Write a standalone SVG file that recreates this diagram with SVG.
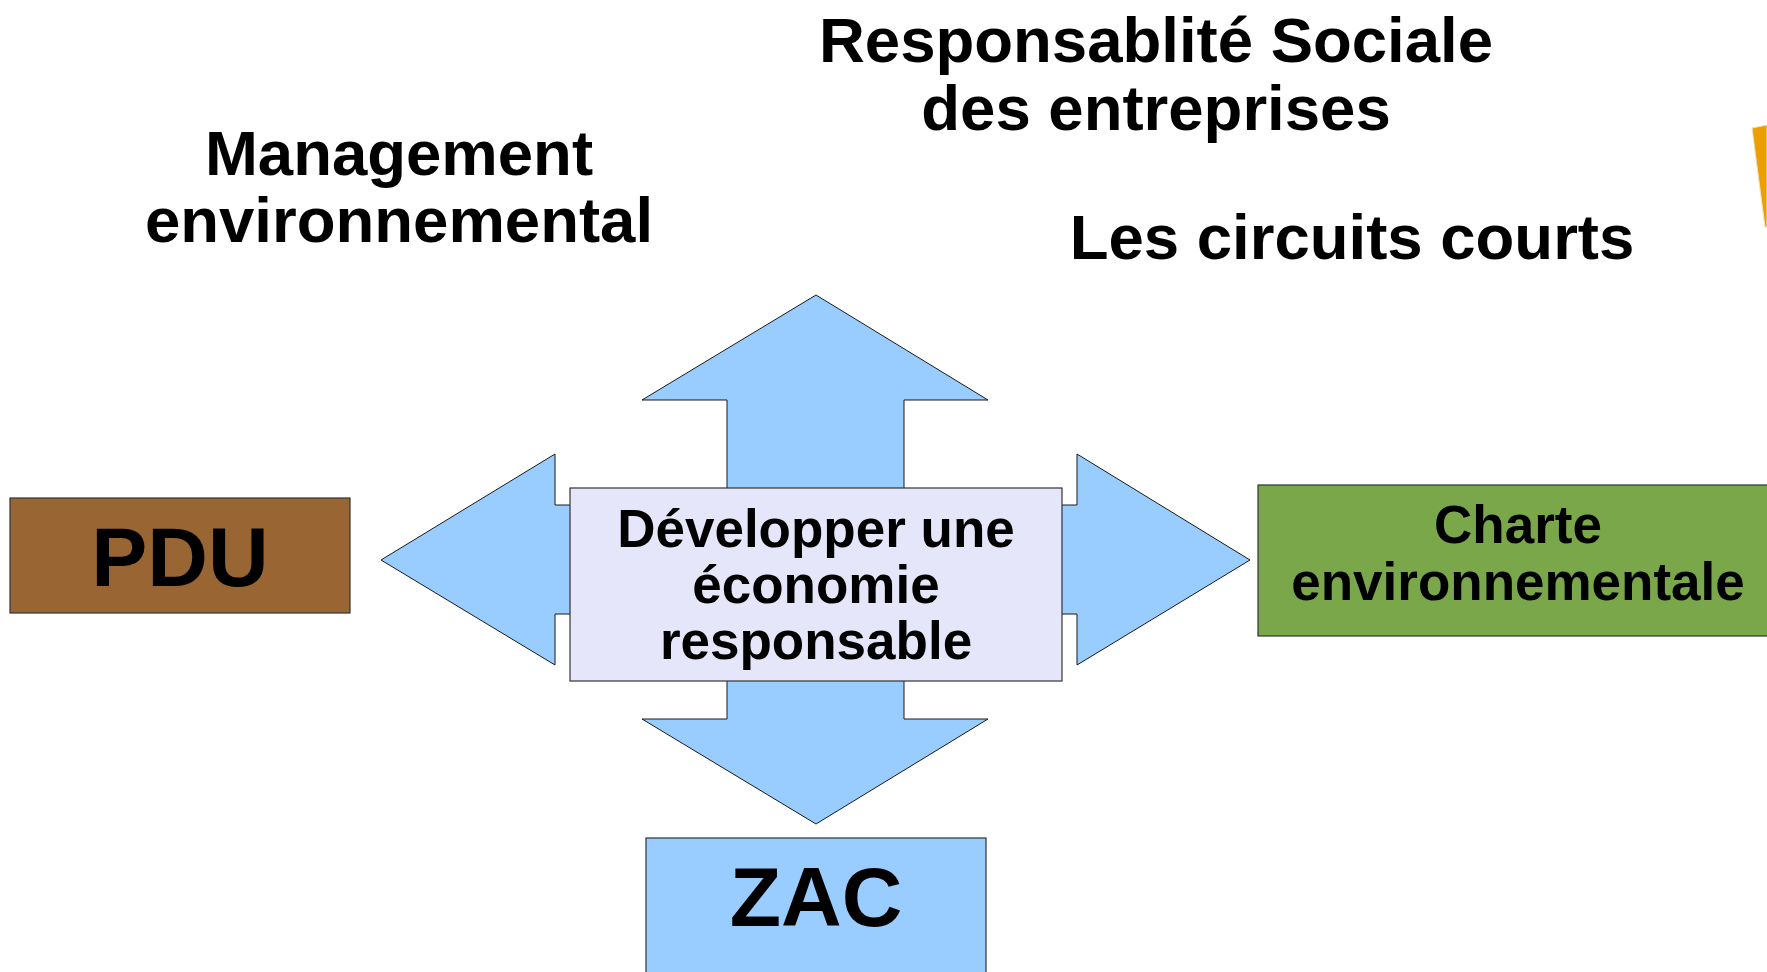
<svg xmlns="http://www.w3.org/2000/svg" width="1767" height="972" viewBox="0 0 1767 972">
<style>
.t{font-family:"Liberation Sans",Arial,sans-serif;font-weight:bold;fill:#000;text-anchor:middle}
.arr{fill:#99ccff;stroke:#1a1a1a;stroke-width:1}
.box{stroke:#333;stroke-width:1.2}
</style>
<rect x="0" y="0" width="1767" height="972" fill="#ffffff"/>
<polygon points="1752,128 1767,125 1767,227 1765,227" fill="#e9a000" stroke="#f3e2b8" stroke-width="1"/>
<g id="labels">
<text class="t" x="399" y="175" font-size="63.5">Management</text>
<text class="t" x="399" y="242" font-size="63.5">environnemental</text>
<text class="t" x="1156" y="62" font-size="63.5">Responsablité Sociale</text>
<text class="t" x="1156" y="130" font-size="63.5">des entreprises</text>
<text class="t" x="1352" y="259" font-size="63.5">Les circuits courts</text>
</g>
<g id="connectors">
<polygon class="arr" points="816,295 988,400 904,400 904,719 988,719 816,824 642,719 727,719 727,400 642,400"/>
<polygon class="arr" points="381,560 555,454 555,505 1077,505 1077,454 1250,560 1077,665 1077,614 555,614 555,665"/>
</g>
<g id="center">
<rect class="box" x="570" y="488" width="492" height="193" fill="#e6e6fa"/>
<text class="t" x="816" y="547" font-size="53">Développer une</text>
<text class="t" x="816" y="603" font-size="53">économie</text>
<text class="t" x="816" y="659" font-size="53">responsable</text>
</g>
<g id="pdu">
<rect class="box" x="10" y="498" width="340" height="115" fill="#996633"/>
<text class="t" x="180" y="586" font-size="84">PDU</text>
</g>
<g id="charte">
<rect class="box" x="1258" y="485" width="530" height="151" fill="#79a74a"/>
<text class="t" x="1518" y="543" font-size="53">Charte</text>
<text class="t" x="1518" y="600" font-size="53">environnementale</text>
</g>
<g id="zac">
<rect class="box" x="646" y="838" width="340" height="150" fill="#99ccff"/>
<text class="t" x="816" y="926" font-size="84">ZAC</text>
</g>
</svg>
